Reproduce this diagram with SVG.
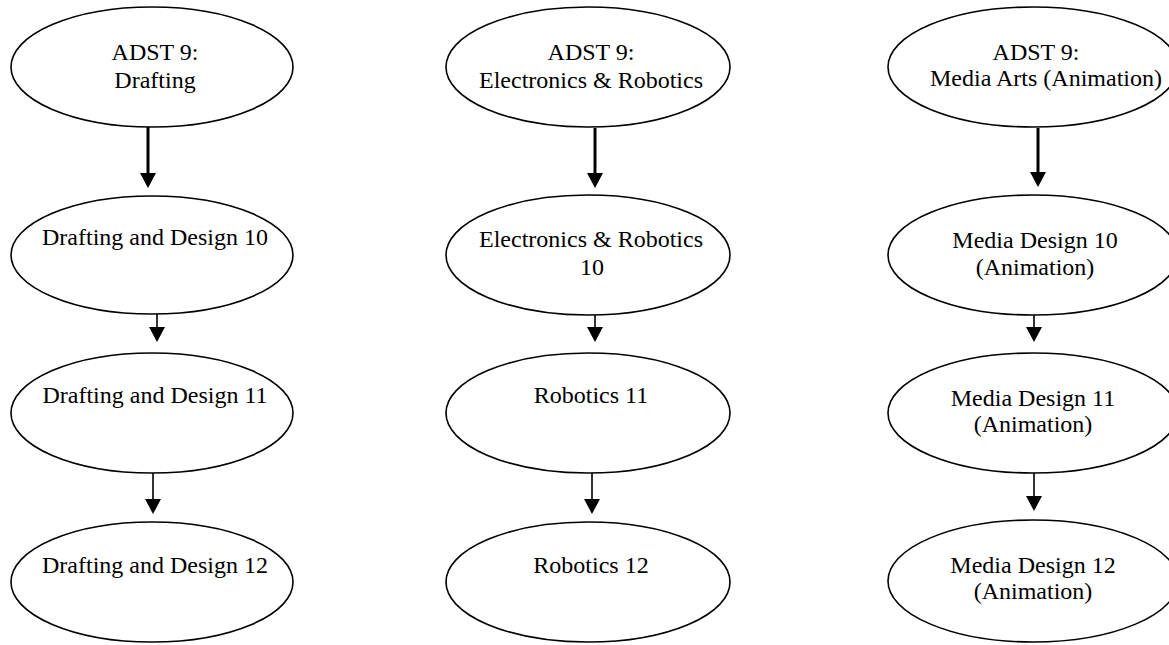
<svg xmlns="http://www.w3.org/2000/svg" width="1169" height="645" viewBox="0 0 1169 645">
<style>
.node ellipse{fill:#fff;stroke:#000;stroke-width:1.6}
.node text{font-family:"Liberation Serif","Times New Roman",serif;font-size:24px;fill:#000;text-anchor:middle}
.thick{stroke:#000;stroke-width:3;fill:none}
.thin{stroke:#000;stroke-width:1.6;fill:none}
</style>
<defs>
<marker id="ah" viewBox="0 0 15 16" refX="1" refY="8" markerWidth="15" markerHeight="16" markerUnits="userSpaceOnUse" orient="auto">
<path d="M0,0 L15,8 L0,16 Z" fill="#000"/>
</marker>
</defs>
<rect width="1169" height="645" fill="#fff"/>
<g id="connectors">
<line class="thick" x1="148" y1="127" x2="148" y2="174" marker-end="url(#ah)"/>
<line class="thin" x1="157" y1="314" x2="157" y2="328" marker-end="url(#ah)"/>
<line class="thin" x1="153" y1="473" x2="153" y2="500" marker-end="url(#ah)"/>
<line class="thick" x1="595" y1="128" x2="595" y2="174" marker-end="url(#ah)"/>
<line class="thin" x1="595" y1="315" x2="595" y2="328" marker-end="url(#ah)"/>
<line class="thin" x1="592" y1="473" x2="592" y2="500" marker-end="url(#ah)"/>
<line class="thick" x1="1038" y1="128" x2="1038" y2="173" marker-end="url(#ah)"/>
<line class="thin" x1="1034" y1="315" x2="1034" y2="328" marker-end="url(#ah)"/>
<line class="thin" x1="1034" y1="473" x2="1034" y2="497" marker-end="url(#ah)"/>
</g>
<g id="n-adst-drafting" class="node"><ellipse cx="152" cy="67" rx="141" ry="60"/><text x="155" y="60">ADST 9:</text><text x="155" y="88">Drafting</text></g>
<g id="n-dd10" class="node"><ellipse cx="152" cy="255" rx="141" ry="59"/><text x="155" y="245">Drafting and Design 10</text></g>
<g id="n-dd11" class="node"><ellipse cx="152" cy="413" rx="141" ry="60"/><text x="155" y="403">Drafting and Design 11</text></g>
<g id="n-dd12" class="node"><ellipse cx="152" cy="582" rx="141" ry="60"/><text x="155" y="573">Drafting and Design 12</text></g>
<g id="n-adst-er" class="node"><ellipse cx="588" cy="67" rx="142" ry="60"/><text x="591" y="60">ADST 9:</text><text x="591" y="88">Electronics &amp; Robotics</text></g>
<g id="n-er10" class="node"><ellipse cx="588" cy="255" rx="142" ry="60"/><text x="591" y="247">Electronics &amp; Robotics</text><text x="592" y="275">10</text></g>
<g id="n-r11" class="node"><ellipse cx="588" cy="413" rx="142" ry="60"/><text x="591" y="403">Robotics 11</text></g>
<g id="n-r12" class="node"><ellipse cx="588" cy="582" rx="142" ry="60"/><text x="591" y="573">Robotics 12</text></g>
<g id="n-adst-media" class="node"><ellipse cx="1033" cy="67" rx="145" ry="60"/><text x="1036" y="60">ADST 9:</text><text x="1046" y="86">Media Arts (Animation)</text></g>
<g id="n-md10" class="node"><ellipse cx="1033" cy="255" rx="145" ry="60"/><text x="1035" y="248">Media Design 10</text><text x="1035" y="275">(Animation)</text></g>
<g id="n-md11" class="node"><ellipse cx="1033" cy="413" rx="145" ry="60"/><text x="1033" y="406">Media Design 11</text><text x="1033" y="432">(Animation)</text></g>
<g id="n-md12" class="node"><ellipse cx="1033" cy="581" rx="145" ry="61"/><text x="1033" y="573">Media Design 12</text><text x="1033" y="599">(Animation)</text></g>
</svg>
